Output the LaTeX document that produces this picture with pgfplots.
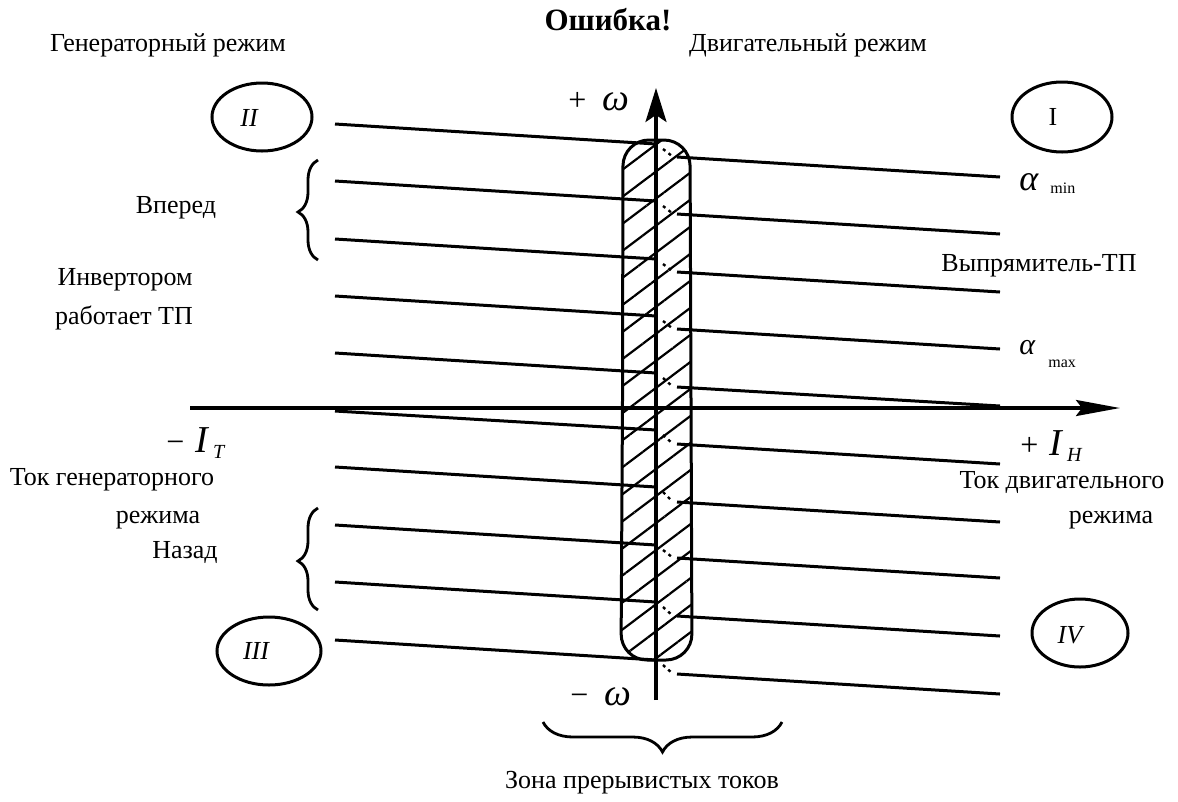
\documentclass[border=0pt]{standalone}
\usepackage{fontspec}
\setmainfont{Liberation Serif}
\usepackage{pgfplots}
\pgfplotsset{compat=1.18}
\usetikzlibrary{patterns.meta,arrows.meta,decorations.pathreplacing}

\tikzset{ch/.style={black, solid, mark=none, line width=1.5pt},
         tr/.style={black, mark=none, line width=1.2pt, dash pattern=on 1.5pt off 2pt}}
\begin{document}
\begin{tikzpicture}
\begin{axis}[
  width=589pt, height=399.5pt, scale only axis,
  xmin=0, xmax=1178, ymin=0, ymax=799, y dir=reverse,
  hide axis, clip=false,
]
\path (axis cs:0,0) rectangle (axis cs:1178,799);
% hatched zone of discontinuous currents
\addplot[ch, pattern={Lines[angle=37,distance=10.8pt,line width=1.1pt]}, rounded corners=13pt]
  coordinates {(622.5,400) (623,140) (690,140) (692,660) (621,660) (622.5,400)};
% left characteristics (generator side)
\addplot[ch] coordinates {(335,124) (656,144)};
\addplot[ch] coordinates {(335,181) (656,201)};
\addplot[ch] coordinates {(335,239) (656,259)};
\addplot[ch] coordinates {(335,296) (656,316)};
\addplot[ch] coordinates {(335,353) (656,373)};
\addplot[ch] coordinates {(335,411) (656,430)};
\addplot[ch] coordinates {(335,467) (656,487)};
\addplot[ch] coordinates {(335,525) (656,545)};
\addplot[ch] coordinates {(335,582) (656,602)};
\addplot[ch] coordinates {(335,640) (656,660)};
% right characteristics (motor side)
\addplot[ch] coordinates {(677,157) (1000,177)};
\addplot[ch] coordinates {(677,214) (1000,234)};
\addplot[ch] coordinates {(677,272) (1000,292)};
\addplot[ch] coordinates {(677,329) (1000,349)};
\addplot[ch] coordinates {(677,387) (1000,406)};
\addplot[ch] coordinates {(677,444) (1000,464)};
\addplot[ch] coordinates {(677,502) (1000,522)};
\addplot[ch] coordinates {(677,558) (1000,578)};
\addplot[ch] coordinates {(677,616) (1000,636)};
\addplot[ch] coordinates {(677,674) (1000,694)};
% dotted transitions
\addplot[tr] coordinates {(663,149) (672,156)};
\addplot[tr] coordinates {(663,206) (672,213)};
\addplot[tr] coordinates {(663,264) (672,271)};
\addplot[tr] coordinates {(663,321) (672,328)};
\addplot[tr] coordinates {(663,378) (672,386)};
\addplot[tr] coordinates {(663,435) (672,443)};
\addplot[tr] coordinates {(663,492) (672,501)};
\addplot[tr] coordinates {(663,550) (672,557)};
\addplot[tr] coordinates {(663,607) (672,615)};
\addplot[tr] coordinates {(663,665) (672,673)};
% axes
\addplot[black, mark=none, line width=1.6pt, -{Stealth[length=22pt,width=8pt,inset=3pt]}] coordinates {(190,408) (1120,408)};
\addplot[black, mark=none, line width=1.6pt, -{Stealth[length=17pt,width=10.5pt,inset=3.5pt]}] coordinates {(656,700) (656,88)};
% ellipses
\draw[line width=1.5pt] (axis cs:262,117) ellipse [x radius=25pt, y radius=17pt];
\draw[line width=1.5pt] (axis cs:1062,117) ellipse [x radius=25pt, y radius=17.5pt];
\draw[line width=1.5pt] (axis cs:269,651) ellipse [x radius=26pt, y radius=17pt];
\draw[line width=1.5pt] (axis cs:1080,633) ellipse [x radius=24pt, y radius=17pt];
\node[font=\fontsize{13}{15}\selectfont\itshape] at (axis cs:249,118) {II};
\node[font=\fontsize{13}{15}\selectfont] at (axis cs:1053,117) {I};
\node[font=\fontsize{13}{15}\selectfont\itshape] at (axis cs:256,651) {III};
\node[font=\fontsize{13}{15}\selectfont\itshape] at (axis cs:1070,635) {IV};
% braces
\draw[line width=1.4pt, decorate, decoration={brace, amplitude=10pt, aspect=0.48}] (axis cs:318,260) -- (axis cs:318,160);
\draw[line width=1.4pt, decorate, decoration={brace, amplitude=10pt, aspect=0.48}] (axis cs:318,610) -- (axis cs:318,508);
\draw[line width=1.4pt, decorate, decoration={brace, amplitude=15pt, aspect=0.5}] (axis cs:782,722) -- (axis cs:543,722);
% texts
\node[font=\fontsize{13}{15}\selectfont] at (axis cs:168,45) {Генераторный режим};
\node[font=\fontsize{15.5}{17}\selectfont\bfseries] at (axis cs:608,20) {Ошибка!};
\node[font=\fontsize{13}{15}\selectfont] at (axis cs:808,45) {Двигательный режим};
\node[font=\fontsize{13}{15}\selectfont] at (axis cs:176,208) {Вперед};
\node[font=\fontsize{13}{15}\selectfont] at (axis cs:125,280) {Инвертором};
\node[font=\fontsize{13}{15}\selectfont] at (axis cs:124,318) {работает ТП};
\node[font=\fontsize{13}{15}\selectfont] at (axis cs:1039,266) {Выпрямитель-ТП};
\node[font=\fontsize{13}{15}\selectfont] at (axis cs:112,480) {Ток генераторного};
\node[font=\fontsize{13}{15}\selectfont] at (axis cs:158,520) {режима};
\node[font=\fontsize{13}{15}\selectfont] at (axis cs:185,552) {Назад};
\node[font=\fontsize{13}{15}\selectfont] at (axis cs:1062,482) {Ток двигательного};
\node[font=\fontsize{13}{15}\selectfont] at (axis cs:1111,520) {режима};
\node[font=\fontsize{13}{15}\selectfont] at (axis cs:642,783) {Зона прерывистых токов};
% symbols
\node[anchor=west, inner sep=0pt, font=\fontsize{16}{18}\selectfont] at (axis cs:568,102) {+\,\,\,{\fontsize{19}{20}\selectfont\itshape ω}};
\node[anchor=west, inner sep=0pt, font=\fontsize{16}{18}\selectfont] at (axis cs:570,697) {−\,\,\,{\fontsize{19}{20}\selectfont\itshape ω}};
\node[anchor=west, inner sep=0pt, font=\fontsize{18}{20}\selectfont\itshape] at (axis cs:1019,182) {α};
\node[anchor=west, inner sep=0pt, font=\fontsize{8}{9}\selectfont] at (axis cs:1050,188) {min};
\node[anchor=west, inner sep=0pt, font=\fontsize{15}{17}\selectfont\itshape] at (axis cs:1019,348) {α};
\node[anchor=west, inner sep=0pt, font=\fontsize{8}{9}\selectfont] at (axis cs:1048,364) {max};
\node[anchor=west, inner sep=0pt, font=\fontsize{16}{18}\selectfont] at (axis cs:166,443) {−\,\,{\fontsize{19}{20}\selectfont\itshape I}\,\raisebox{-3pt}{\fontsize{10}{11}\selectfont\itshape T}};
\node[anchor=west, inner sep=0pt, font=\fontsize{16}{18}\selectfont] at (axis cs:1020,446) {+\,\,{\fontsize{19}{20}\selectfont\itshape I}\,\raisebox{-3pt}{\fontsize{10}{11}\selectfont\itshape H}};
\end{axis}
\end{tikzpicture}
\end{document}
